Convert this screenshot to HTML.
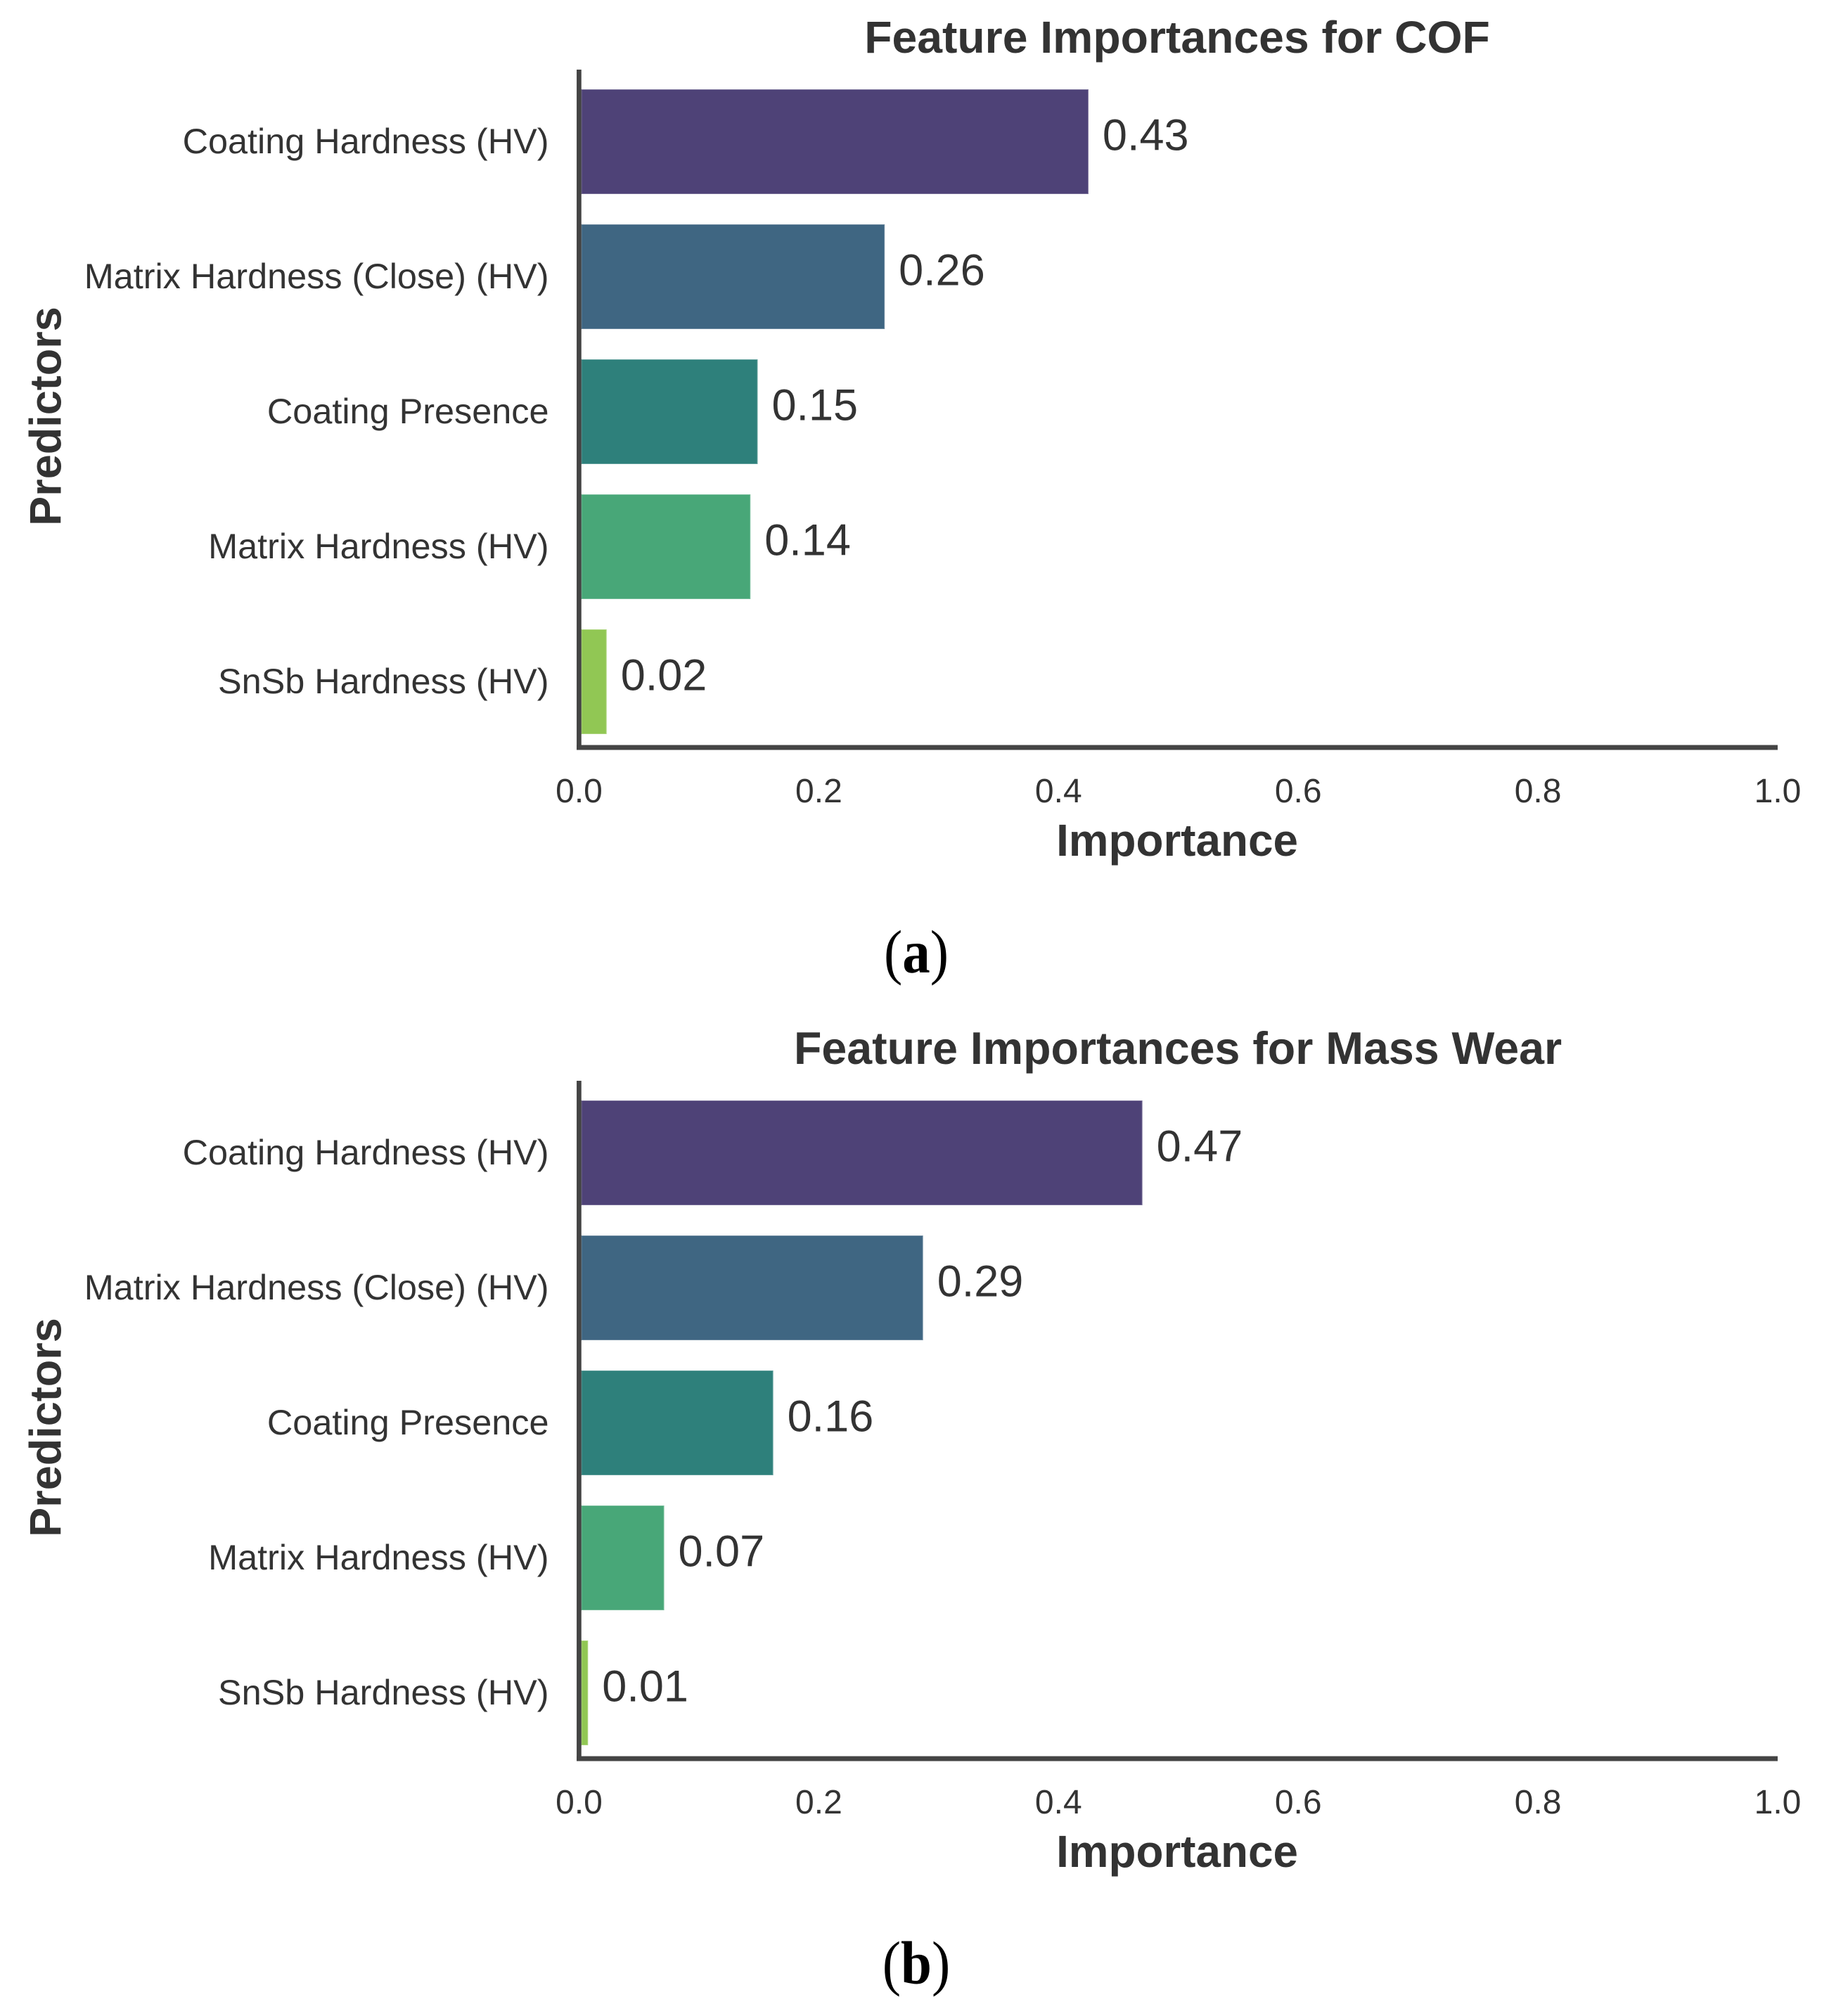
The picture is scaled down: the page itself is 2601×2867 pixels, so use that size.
<!DOCTYPE html>
<html lang="en">
<head>
<meta charset="utf-8">
<title>Feature Importances</title>
<style>
html,body{margin:0;padding:0;background:#fff;}
svg{display:block;}
text{font-family:"Liberation Sans",Arial,sans-serif;fill:#333;}
</style>
</head>
<body>
<svg id="chart" xmlns="http://www.w3.org/2000/svg" width="2601" height="2867" viewBox="0 0 2601 2867">
  <rect x="0" y="0" width="2601" height="2867" fill="#ffffff"/>
  <g id="panel-a">
    <text x="1674" y="75" text-anchor="middle" font-size="64.3" font-weight="700">Feature Importances for COF</text>
    <text x="1674" y="1217" text-anchor="middle" font-size="63.8" font-weight="700">Importance</text>
    <text transform="translate(86.5 592) rotate(-90)" text-anchor="middle" font-size="63" font-weight="700">Predictors</text>
    <text transform="translate(1303 1383) scale(1 1.1)" x="0" y="0" text-anchor="middle" font-size="79" style="font-family:'Liberation Serif',serif;fill:#000">(<tspan font-weight="700">a</tspan>)</text>
  </g>
  <g id="panel-b">
    <text x="1675" y="1513" text-anchor="middle" font-size="64.5" font-weight="700">Feature Importances for Mass Wear</text>
    <text x="1674" y="2655" text-anchor="middle" font-size="63.8" font-weight="700">Importance</text>
    <text transform="translate(86.5 2030) rotate(-90)" text-anchor="middle" font-size="63" font-weight="700">Predictors</text>
    <text transform="translate(1303 2821) scale(1 1.1)" x="0" y="0" text-anchor="middle" font-size="79" style="font-family:'Liberation Serif',serif;fill:#000">(<tspan font-weight="700">b</tspan>)</text>
  </g>
</svg>
<script>
const categories = ["Coating Hardness (HV)", "Matrix Hardness (Close) (HV)", "Coating Presence", "Matrix Hardness (HV)", "SnSb Hardness (HV)"];
const cofValues = [0.425, 0.255, 0.149, 0.143, 0.023];
const cofLabels = ["0.43", "0.26", "0.15", "0.14", "0.02"];
const massWearValues = [0.47, 0.287, 0.162, 0.071, 0.0075];
const massWearLabels = ["0.47", "0.29", "0.16", "0.07", "0.01"];
const xTickValues = [0, 0.2, 0.4, 0.6, 0.8, 1];
const xTickLabels = ["0.0", "0.2", "0.4", "0.6", "0.8", "1.0"];
const barColors = ["#4e4277", "#3f6682", "#2e807b", "#48a778", "#91c754"];

const SVG_NS = "http://www.w3.org/2000/svg";
const PANEL_STEP = 1438;
const X0 = 823.5, X1 = 2528;
const BAND_START = 201.5, BAND_STEP = 192, BAR_HEIGHT = 149;

function xScale(v) { return X0 + (v - 0) / (1 - 0) * (X1 - X0); }
function yBand(i, dy) { return BAND_START + i * BAND_STEP + dy; }

function make(parent, tag, attrs, content) {
  const el = document.createElementNS(SVG_NS, tag);
  for (const k in attrs) el.setAttribute(k, attrs[k]);
  if (content !== undefined) el.textContent = content;
  parent.appendChild(el);
  return el;
}

function drawPanel(parentId, values, labels, dy) {
  const g = document.getElementById(parentId);
  values.forEach(function (v, i) {
    const bar = make(g, "rect", {
      x: xScale(0) + 4,
      y: yBand(i, dy) - BAR_HEIGHT / 2 + 1,
      width: Math.max(0, xScale(v) - xScale(0) - 5),
      height: BAR_HEIGHT - 2,
      fill: barColors[i],
      stroke: barColors[i],
      "stroke-opacity": 0.75,
      "stroke-width": 2
    });
    
    

    const val = make(g, "text", {
      x: xScale(v) + 20,
      y: yBand(i, dy) + 12,
      "font-size": 63
    }, labels[i]);
    
    

    const cat = make(g, "text", {
      x: 780.5,
      y: yBand(i, dy) + 16.5,
      "text-anchor": "end",
      "font-size": 50.4
    }, categories[i]);
    
    
  });

  xTickValues.forEach(function (t, i) {
    const tick = make(g, "text", {
      x: xScale(t),
      y: 1141 + dy,
      "text-anchor": "middle",
      "font-size": 48
    }, xTickLabels[i]);
    
    
  });

  const yAxis = make(g, "line", { x1: 823.4, x2: 823.4, y1: 99 + dy, y2: 1066.5 + dy, stroke: "#444", "stroke-width": 6.7 });
  
  

  const xAxis = make(g, "line", { x1: 820, x2: xScale(1), y1: 1063 + dy, y2: 1063 + dy, stroke: "#444", "stroke-width": 7 });
  
  
}

drawPanel("panel-a", cofValues, cofLabels, 0);
drawPanel("panel-b", massWearValues, massWearLabels, PANEL_STEP);
</script>
</body>
</html>
